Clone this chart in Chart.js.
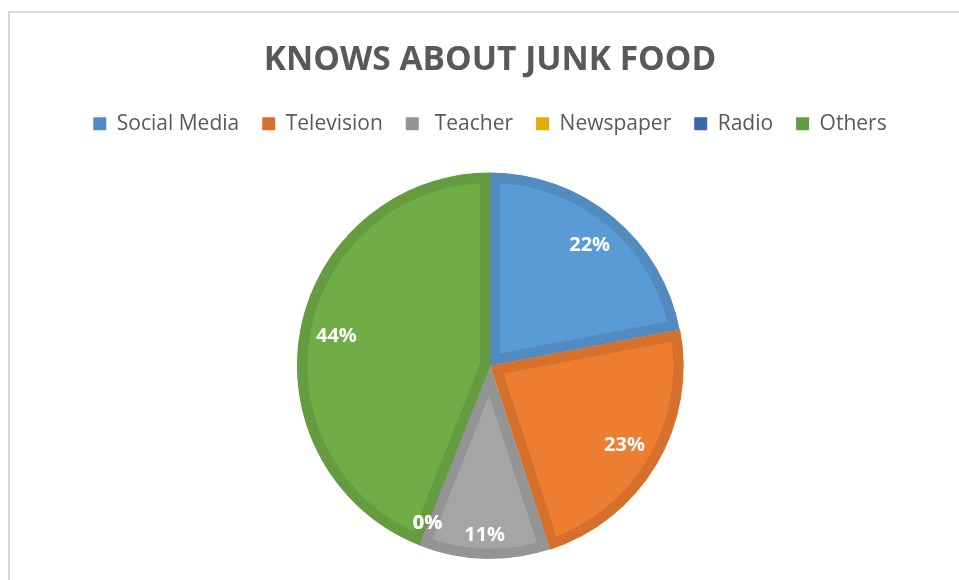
<!DOCTYPE html>
<html>
<head>
<meta charset="utf-8">
<script src="https://cdn.jsdelivr.net/npm/chart.js@4.4.1/dist/chart.umd.min.js"></script>
<style>
  html, body { margin: 0; padding: 0; background: #fff; overflow: hidden; }
  #frame { position: absolute; left: 8px; top: 11px; width: 1000px; height: 1000px; border: 2px solid #d9d9d9; }
  #chart { position: absolute; left: 0; top: 0; }
</style>
</head>
<body>
<div id="frame"></div>
<canvas id="chart" width="959" height="600"></canvas>
<script>
// sources and their share of answers (percent)
const sources = ["Social Media", "Television", " Teacher", "Newspaper", "Radio", "Others"]
const shares = [22, 23, 11, 0, 0, 44]

const fills = ["#5b9bd5", "#ed7d31", "#a5a5a5", "#ffc000", "#4472c4", "#70ad47"]
const edges = ["#518bc0", "#d5712c", "#949494", "#e5ac00", "#3d66b0", "#659c40"]

// white percent labels inside each slice
const sliceLabels = {
    id: "sliceLabels",
    afterDatasetsDraw(chart) {
        const ctx = chart.ctx
        const meta = chart.getDatasetMeta(0)
        const total = shares.reduce((a, b) => a + b, 0)
        ctx.save()
        ctx.font = "bold 20px 'Open Sans'"
        ctx.fillStyle = "#ffffff"
        ctx.textAlign = "center"
        ctx.textBaseline = "middle"
        meta.data.forEach((arc, i) => {
            const p = arc.getProps(["x", "y", "startAngle", "endAngle", "outerRadius"], true)
            const pct = Math.round(shares[i] / total * 100)
            const mid = (p.startAngle + p.endAngle) / 2
            const f = pct < 15 ? 0.88 : 0.81
            ctx.fillText(pct + "%", p.x + Math.cos(mid) * p.outerRadius * f, p.y + Math.sin(mid) * p.outerRadius * f)
        })
        ctx.restore()
    }
}

const chart = new Chart(document.getElementById("chart").getContext("2d"), {
    type: "pie",
    data: {
        labels: sources,
        datasets: [{
            data: shares,
            backgroundColor: fills,
            borderColor: edges,
            borderWidth: c => shares[c.dataIndex] > 0 ? 10 : 0,
            borderAlign: "inner",
            borderJoinStyle: "miter",
            offset: [0, 3, 1, 0, 0, 0],
            radius: 193
        }]
    },
    options: {
        responsive: false,
        animation: false,
        layout: { padding: { left: 21, right: 0, top: 0, bottom: 13 } },
        plugins: {
            title: {
                display: true,
                text: "KNOWS ABOUT JUNK FOOD",
                color: "#595959",
                font: { family: "'Open Sans'", size: 33.5, weight: "bold" },
                padding: { top: 40, bottom: 10 }
            },
            legend: {
                position: "top",
                labels: {
                    color: "#595959",
                    font: { family: "'Open Sans'", size: 21 },
                    boxWidth: 13,
                    boxHeight: 13,
                    padding: 23,
                    generateLabels: ch => Chart.overrides.pie.plugins.legend.labels.generateLabels(ch).map((item, i) => {
                        item.fillStyle = edges[i]
                        item.strokeStyle = edges[i]
                        item.lineWidth = 0
                        return item
                    })
                }
            },
            tooltip: { enabled: false }
        }
    },
    plugins: [sliceLabels]
})
</script>
</body>
</html>
